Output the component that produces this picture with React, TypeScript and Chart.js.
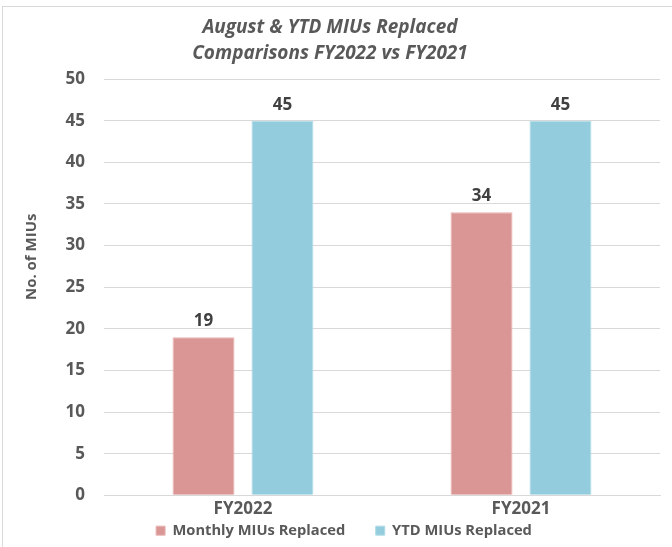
import React, { useEffect, useRef } from "react";
import { Chart, registerables } from "chart.js";

Chart.register(...registerables);

const categories = ["FY2022", "FY2021"];
const monthlyValues = [19, 34];
const ytdValues = [45, 45];
const seriesNames = ["Monthly MIUs Replaced", "YTD MIUs Replaced"];
const titleLines = ["August & YTD MIUs Replaced", "Comparisons FY2022 vs FY2021"];
const yAxisTitle = "No. of MIUs";

const FONT = "'Open Sans', sans-serif";
const TEXT = "#595959";

const dataLabels = {
  id: "dataLabels",
  afterDatasetsDraw(chart: any) {
    const ctx = chart.ctx;
    ctx.save();
    ctx.font = `bold 17px ${FONT}`;
    ctx.fillStyle = "#404040";
    ctx.textAlign = "center";
    ctx.textBaseline = "middle";
    chart.data.datasets.forEach((ds: any, i: number) => {
      const meta = chart.getDatasetMeta(i);
      meta.data.forEach((bar: any, j: number) => {
        ctx.fillText(String(ds.data[j]), bar.x, bar.y - 16);
      });
    });
    ctx.restore();
  },
};

const yTitle = {
  id: "yTitle",
  afterDraw(chart: any) {
    const ctx = chart.ctx;
    const a = chart.chartArea;
    ctx.save();
    ctx.font = `bold 15px ${FONT}`;
    ctx.fillStyle = TEXT;
    ctx.textAlign = "center";
    ctx.textBaseline = "middle";
    ctx.translate(32, a.top + (a.bottom - a.top) * 0.427);
    ctx.rotate(-Math.PI / 2);
    ctx.fillText(yAxisTitle, 0, 0);
    ctx.restore();
  },
};

const legendShift = {
  id: "legendShift",
  afterLayout(chart: any) {
    const lg = chart.legend;
    if (lg) {
      lg.left += 14;
      lg.right += 14;
    }
  },
};

export default function App() {
  const ref = useRef<HTMLCanvasElement>(null);
  useEffect(() => {
    document.body.style.margin = "0";
    const chart = new Chart(ref.current!, {
      type: "bar",
      data: {
        labels: categories,
        datasets: [
          {
            label: seriesNames[0],
            data: monthlyValues,
            backgroundColor: "#DA9694",
            borderColor: "#E6B4B2",
            borderWidth: 1,
            categoryPercentage: 0.568,
            barPercentage: 0.785,
          },
          {
            label: seriesNames[1],
            data: ytdValues,
            backgroundColor: "#93CDDD",
            borderColor: "#B0DAE6",
            borderWidth: 1,
            categoryPercentage: 0.568,
            barPercentage: 0.785,
          },
        ],
      },
      options: {
        animation: false,
        responsive: false,
        maintainAspectRatio: false,
        layout: { padding: { left: 0, right: 12, top: 0, bottom: -1 } },
        plugins: {
          title: {
            display: true,
            text: titleLines,
            color: TEXT,
            font: { family: FONT, size: 19, weight: "bold", style: "italic", lineHeight: 1.37 },
            padding: { top: 15, bottom: 12 },
          },
          legend: {
            position: "bottom",
            labels: {
              color: TEXT,
              font: { family: FONT, size: 14.7, weight: "bold", lineHeight: 1 },
              boxWidth: 9,
              boxHeight: 9,
              padding: 0,
              generateLabels: (chart: any) => {
                const items = Chart.defaults.plugins.legend.labels.generateLabels(chart);
                items.forEach((it: any, i: number) => {
                  if (i < items.length - 1) it.text = it.text + "        ";
                });
                return items;
              },
            },
          },
          tooltip: { enabled: false },
        },
        scales: {
          x: {
            grid: { display: false, drawTicks: false },
            border: { display: true, color: "#d9d9d9", width: 1 },
            ticks: {
              color: TEXT,
              font: { family: FONT, size: 17, weight: "bold", lineHeight: 1 },
              padding: 5.5,
            },
          },
          y: {
            min: 0,
            max: 50,
            afterFit: (scale: any) => {
              scale.width = 104;
            },
            grid: { color: "#d9d9d9", lineWidth: 1, drawTicks: false },
            border: { display: false },
            ticks: {
              stepSize: 5,
              color: TEXT,
              font: { family: FONT, size: 17, weight: "bold" },
              padding: 19,
            },
          },
        },
      },
      plugins: [dataLabels, yTitle, legendShift],
    });
    return () => chart.destroy();
  }, []);
  return (
    <div style={{ position: "relative", width: 672, height: 547 }}>
      <div
        style={{
          position: "absolute",
          left: 2,
          top: 6,
          width: 700,
          height: 600,
          borderLeft: "1px solid #d9d9d9",
          borderTop: "1px solid #d9d9d9",
          pointerEvents: "none",
        }}
      />
      <canvas ref={ref} width={672} height={547} style={{ position: "absolute", left: 0, top: 0 }} />
    </div>
  );
}
